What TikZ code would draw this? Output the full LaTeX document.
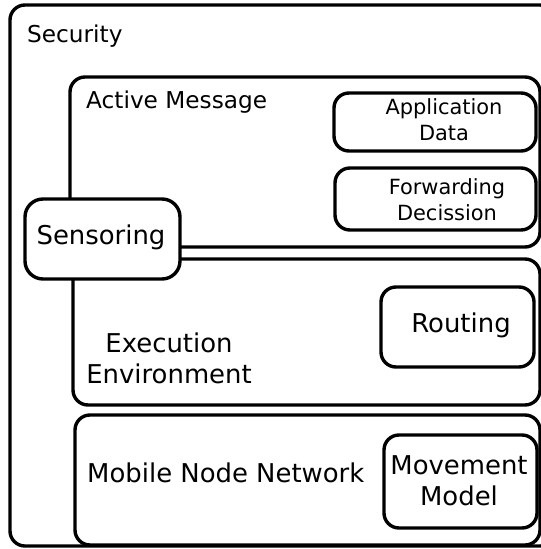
\documentclass[tikz,border=0pt]{standalone}
\usepackage{fontspec}
\setmainfont{DejaVu Sans}
\begin{document}
\begin{tikzpicture}[x=1bp,y=-1bp,
  box/.style={draw,line width=3.4bp,rounded corners=15bp,anchor=north west,inner sep=0pt,outer sep=0pt,fill=white},
  big/.style={font=\fontsize{26}{31}\selectfont,align=center,inner sep=0pt},
  mid/.style={font=\fontsize{23.3}{28}\selectfont,inner sep=0pt},
  small/.style={font=\fontsize{21}{26}\selectfont,align=center,inner sep=0pt}]
\useasboundingbox (0,0) rectangle (541,549);
\clip (0,0) rectangle (541,549);
\node[box,minimum width=545bp,minimum height=541bp] (security) at (10,5) {};
\node[box,minimum width=470bp,minimum height=170bp] (active) at (70,77) {};
\node[box,minimum width=467bp,minimum height=146bp] (exec) at (73,259) {};
\node[box,minimum width=465bp,minimum height=130bp] (mobile) at (75,415) {};
\node[box,rounded corners=18bp,minimum width=155bp,minimum height=80bp] (sens) at (25,199) {};
\node[box,minimum width=202bp,minimum height=58bp] (app) at (334,93) {};
\node[box,minimum width=201bp,minimum height=62bp] (fwd) at (335,168) {};
\node[box,minimum width=153bp,minimum height=80bp] (rout) at (381,287) {};
\node[box,minimum width=153bp,minimum height=93bp] (move) at (384,435) {};
\node[mid,anchor=west] (tsec) at (27,36) {Security};
\node[mid,anchor=west] (tact) at (86,102) {Active Message};
\node[small] (tapp) at (444,120) {Application\\Data};
\node[small] (tfwd) at (447,200) {Forwarding\\Decission};
\node[big] (tsens) at (101,237) {Sensoring};
\node[big] (trout) at (461,325) {Routing};
\node[big] (texec) at (169,358) {Execution\\Environment};
\node[big,anchor=west] (tmob) at (87,473) {Mobile Node Network};
\node[big] (tmove) at (459,481) {Movement\\Model};
\end{tikzpicture}
\end{document}
